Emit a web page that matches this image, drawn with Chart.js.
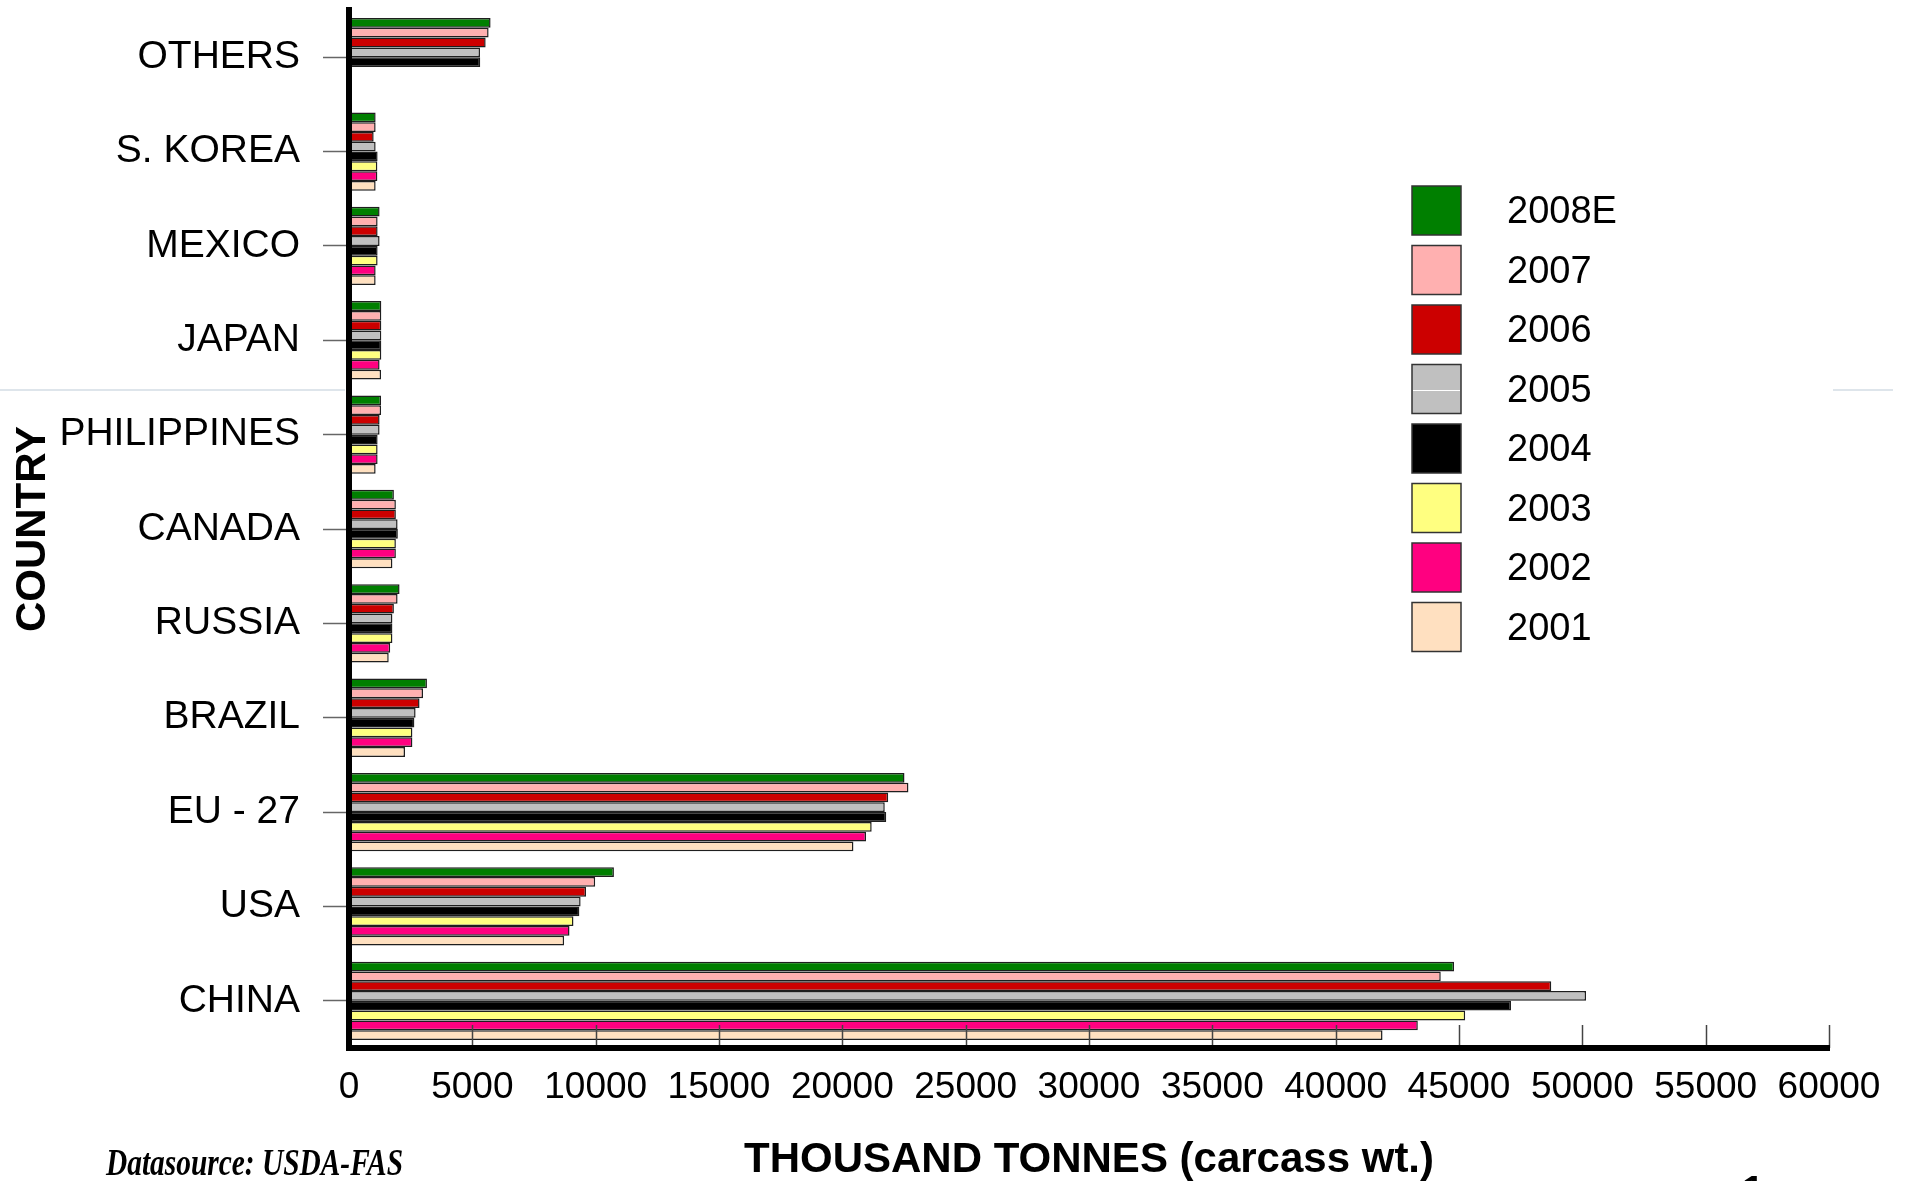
<!DOCTYPE html>
<html>
<head>
<meta charset="utf-8">
<title>Pork production by country</title>
<script src="https://cdn.jsdelivr.net/npm/chart.js@4/dist/chart.umd.min.js"></script>
<style>
  html, body { margin: 0; padding: 0; background: #fff; overflow: hidden; }
  #wrap { width: 1905px; height: 1181px; }
</style>
</head>
<body>
<div id="wrap"><canvas id="porkChart" width="1905" height="1181"></canvas></div>
<script>
// Dados (mil toneladas, peso carcaça)
const countries = ['OTHERS', 'S. KOREA', 'MEXICO', 'JAPAN', 'PHILIPPINES', 'CANADA', 'RUSSIA', 'BRAZIL', 'EU - 27', 'USA', 'CHINA'];
const years = ['2008E', '2007', '2006', '2005', '2004', '2003', '2002', '2001'];

const v2008 = [5740, 1080, 1240, 1310, 1300, 1820, 2050, 3160, 22520, 10740, 44800];
const v2007 = [5660, 1080, 1160, 1310, 1300, 1900, 1970, 3000, 22680, 9980, 44260];
const v2006 = [5540, 1000, 1160, 1310, 1240, 1900, 1820, 2860, 21860, 9610, 48740];
const v2005 = [5310, 1080, 1240, 1310, 1240, 1970, 1760, 2700, 21720, 9390, 50150];
const v2004 = [5320, 1160, 1160, 1310, 1160, 1980, 1760, 2650, 21780, 9340, 47110];
const v2003 = [null, 1150, 1160, 1310, 1160, 1900, 1760, 2570, 21190, 9100, 45250];
const v2002 = [null, 1150, 1080, 1240, 1160, 1900, 1670, 2570, 20960, 8940, 43330];
const v2001 = [null, 1080, 1080, 1300, 1080, 1760, 1610, 2270, 20450, 8720, 41900];

const xTicks = [0, 5000, 10000, 15000, 20000, 25000, 30000, 35000, 40000, 45000, 50000, 55000, 60000];

const series = [v2008, v2007, v2006, v2005, v2004, v2003, v2002, v2001];
const colors = ['#007f00', '#ffb0b0', '#cc0000', '#c0c0c0', '#000000', '#ffff80', '#ff0080', '#ffe0c0'];

const FONT = '"Liberation Sans", Arial, sans-serif';

// Marcas do eixo X (para dentro da área do gráfico)
const innerTicks = {
  id: 'innerTicks',
  afterDatasetsDraw(chart) {
    const { ctx, chartArea, scales } = chart;
    ctx.save();
    ctx.strokeStyle = '#444';
    ctx.lineWidth = 1.5;
    xTicks.forEach(v => {
      if (v === 0) return;
      const x = Math.round(scales.x.getPixelForValue(v)) + 0.5;
      ctx.beginPath();
      ctx.moveTo(x, chartArea.bottom - 23);
      ctx.lineTo(x, chartArea.bottom);
      ctx.stroke();
    });
    ctx.restore();
  }
};

// Legenda à direita
const sideLegend = {
  id: 'sideLegend',
  afterDraw(chart) {
    const ctx = chart.ctx;
    ctx.save();
    ctx.font = '38px ' + FONT;
    ctx.textBaseline = 'middle';
    chart.data.datasets.forEach((ds, i) => {
      const top = 186 + i * 59.5;
      ctx.fillStyle = ds.backgroundColor;
      ctx.fillRect(1412, top, 49, 49);
      ctx.strokeStyle = '#333';
      ctx.lineWidth = 1.5;
      ctx.strokeRect(1412, top, 49, 49);
      ctx.fillStyle = '#000';
      ctx.fillText(ds.label, 1507, top + 27);
    });
    // linha branca no quadro cinza (como no original)
    ctx.strokeStyle = '#fff';
    ctx.lineWidth = 1;
    ctx.beginPath();
    ctx.moveTo(1413, 390.5);
    ctx.lineTo(1460, 390.5);
    ctx.stroke();
    ctx.restore();
  }
};

// Fonte dos dados, número da página e linha clara
const extras = {
  id: 'extras',
  afterDraw(chart) {
    const ctx = chart.ctx;
    ctx.save();
    ctx.strokeStyle = '#d3dde5';
    ctx.lineWidth = 1.5;
    ctx.beginPath();
    ctx.moveTo(0, 390); ctx.lineTo(345, 390);
    ctx.moveTo(1833, 390); ctx.lineTo(1893, 390);
    ctx.stroke();

    ctx.fillStyle = '#000';
    ctx.font = 'bold italic 37px "Liberation Serif", "Times New Roman", serif';
    ctx.textBaseline = 'alphabetic';
    const txt = 'Datasource: USDA-FAS';
    const w = ctx.measureText(txt).width;
    ctx.translate(106, 1175);
    ctx.scale(297 / w, 1);
    ctx.fillText(txt, 0, 0);
    ctx.restore();

    ctx.save();
    ctx.fillStyle = '#000';
    ctx.font = 'bold 40px ' + FONT;
    ctx.fillText('1', 1742, 1204);
    ctx.restore();
  }
};

const ctx = document.getElementById('porkChart').getContext('2d');

new Chart(ctx, {
  type: 'bar',
  data: {
    labels: countries,
    datasets: series.map((data, i) => ({
      label: years[i],
      data: data,
      backgroundColor: colors[i],
      borderColor: '#1e1e1e',
      borderWidth: 1.5,
      borderSkipped: false,
      categoryPercentage: 0.83,
      barPercentage: 1.0
    }))
  },
  options: {
    indexAxis: 'y',
    responsive: false,
    animation: false,
    layout: { padding: { top: 10, right: 76, left: 0, bottom: 0 } },
    plugins: {
      legend: { display: false },
      tooltip: { enabled: false }
    },
    scales: {
      x: {
        min: 0,
        max: 60000,
        afterBuildTicks: s => { s.ticks = xTicks.map(v => ({ value: v })); },
        afterFit: s => { s.height = 133; s.paddingLeft = 0; s.paddingRight = 0; },
        grid: { display: false, drawTicks: false },
        border: { display: true, color: '#000', width: 6, z: 1 },
        ticks: {
          color: '#000',
          padding: 18,
          maxRotation: 0,
          autoSkip: false,
          font: { family: FONT, size: 37 },
          callback: v => String(v)
        },
        title: {
          display: true,
          text: 'THOUSAND TONNES (carcass wt.)',
          color: '#000',
          padding: { top: 3, bottom: 0 },
          font: { family: FONT, size: 42, weight: 'bold', lineHeight: 1.0 }
        }
      },
      y: {
        afterFit: s => { s.width = 349; s.paddingTop = 0; s.paddingBottom = 0; },
        grid: {
          display: true,
          offset: false,
          drawOnChartArea: false,
          drawTicks: true,
          tickLength: 26,
          tickColor: '#666',
          tickWidth: 1.5
        },
        border: { display: true, color: '#000', width: 6, z: 1 },
        ticks: {
          color: '#000',
          padding: 23,
          font: { family: FONT, size: 39 }
        },
        title: {
          display: true,
          text: 'COUNTRY',
          color: '#000',
          padding: { top: 8, bottom: 0 },
          font: { family: FONT, size: 42, weight: 'bold', lineHeight: 1.2 }
        }
      }
    }
  },
  plugins: [innerTicks, sideLegend, extras]
});
</script>
</body>
</html>
